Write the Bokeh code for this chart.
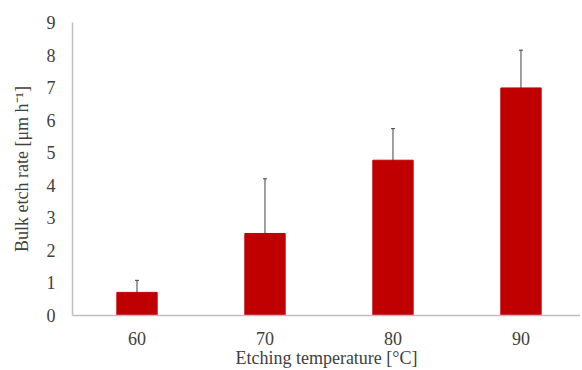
from bokeh.plotting import figure
from bokeh.models import ColumnDataSource, Whisker, TeeHead, FixedTicker, Range1d
from bokeh.embed import file_html
from bokeh.resources import INLINE

temperatures = [60, 70, 80, 90]
etch_rate = [0.71, 2.52, 4.77, 6.99]
error = [0.37, 1.68, 0.97, 1.16]
y_ticks = [0, 1, 2, 3, 4, 5, 6, 7, 8, 9]

upper = [v + e for v, e in zip(etch_rate, error)]
lower = [v - e for v, e in zip(etch_rate, error)]
src = ColumnDataSource(dict(x=temperatures, top=etch_rate, upper=upper, lower=lower))

FONT = "Liberation Serif"
TXT = "#404040"

p = figure(width=580, height=370, output_backend="svg", toolbar_location=None,
           x_range=Range1d(54.96, 94.65), y_range=Range1d(0, 9),
           min_border_left=72, min_border_right=0, min_border_top=22, min_border_bottom=55)
p.vbar(x="x", top="top", width=3.15, source=src, fill_color="#C00000", line_color="#C00000")

w = Whisker(base="x", upper="upper", lower="lower", source=src, line_color="#404040", line_width=1,
            upper_head=TeeHead(size=4, line_color="#404040", line_width=1),
            lower_head=TeeHead(size=4, line_color="#404040", line_width=1))
p.add_layout(w)

p.outline_line_color = None
p.grid.visible = False
p.background_fill_color = "white"

p.xaxis.ticker = FixedTicker(ticks=temperatures)
p.yaxis.ticker = FixedTicker(ticks=y_ticks)
for ax in (p.xaxis[0], p.yaxis[0]):
    ax.axis_line_color = "#BFBFBF"
    ax.axis_line_width = 1.5
    ax.major_tick_line_color = None
    ax.minor_tick_line_color = None
    ax.major_label_text_font = FONT
    ax.major_label_text_font_size = "18px"
    ax.major_label_text_color = TXT
    ax.axis_label_text_font = FONT
    ax.axis_label_text_font_size = "18px"
    ax.axis_label_text_font_style = "normal"
    ax.axis_label_text_color = TXT

p.xaxis.axis_label = "Etching temperature [°C]"
p.yaxis.axis_label = "Bulk etch rate [μm h⁻¹]"
p.xaxis.major_label_standoff = 10
p.xaxis.axis_label_standoff = 0
p.yaxis.major_label_standoff = 11
p.yaxis.axis_label_standoff = 12

open("out.html", "w").write(file_html(p, INLINE))
